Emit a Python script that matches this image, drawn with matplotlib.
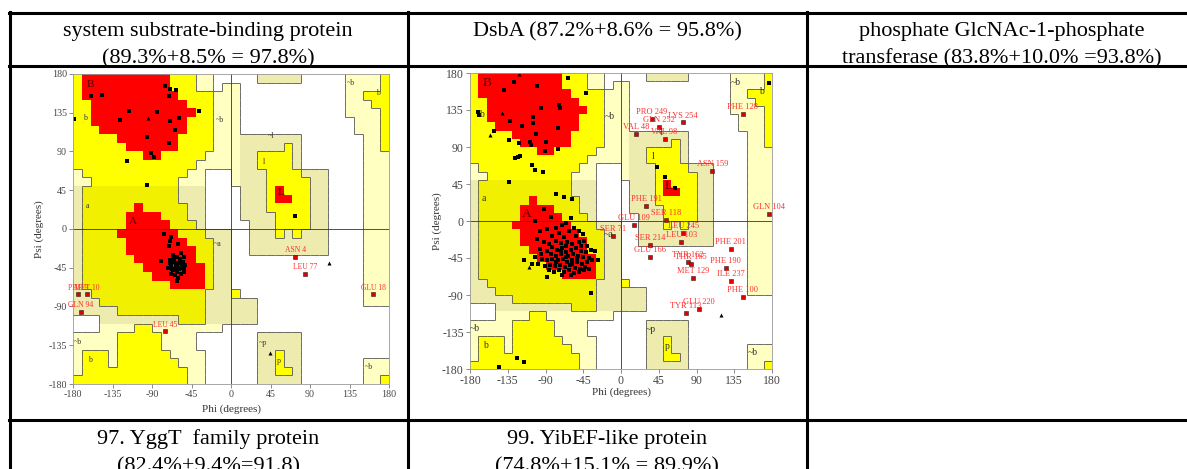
import numpy as np
import matplotlib.pyplot as plt
from matplotlib.colors import ListedColormap
from matplotlib.collections import LineCollection
from matplotlib.lines import Line2D

plt.rcParams['font.family'] = ['Liberation Serif', 'DejaVu Serif']
plt.rcParams['axes.unicode_minus'] = False

W, H = 1187, 469

# Ramachandran regions, 10 degree cells, top row = psi 170..180, first column = phi -180..-170
# R core, Y allowed, D allowed (shaded), P generous, T generous (shaded), . disallowed
region_rows = [
    "YRRRRRRRRRRYYYPP.....TTTTT.....PPPPY",
    "YRRRRRRRRRRYYYPP.PP............PPPPY",
    "YRRRRRRRRRRRYYYYPPP............PPYYY",
    "YYRRRRRRRRRRRYYYPPP............PPPYY",
    "YYRRRRRRRRRRRRYYPPP............PPPPY",
    "YYRRRRRRRRRRRYYYPPP.............PPPY",
    "YYYRRRRRRRRRRYYYPPP.............PPPY",
    "YYYYYRRRRRRRYYYYPPPTTTTTTT.......PPY",
    "YYYYYYRRRRRRYYYYPPPTTTTTYT.......PPY",
    "YYYYYYYYRRYYYYYPPPPTTYYYYT.......PPP",
    "YYYYYYYYYYYYYYPPPPPTTYYYYT.......PPP",
    "PYYYYYYYYYYYYPP...PTTTYYYYTTT....PPP",
    "PPYYYYYYYYYYPPP...PTTTYYYYYTT....PPP",
    "TDDDDDDDDDDDTTT....TTTYRYYYTT....PPP",
    "TDDDDDDDDDDDTTT....TTTYRRYYTT....PPP",
    "TDDDDDDRDDDDDTT....TTTYYYYYTT....PPP",
    "TDDDDDRRRRDDDTT....TTTTYYYYTT....PPP",
    "TDDDDDRRRRRDDDT.....TTTYYYYTT....PPP",
    "TDDDDRRRRRRRDDDTTT..TTTYTYTTT....PPP",
    "TDDDDDRRRRRRRDDDTT..TTTTTTTTT....PPP",
    "TDDDDDRRRRRRRRDDTT..TTTTTTTTT....PPP",
    "TDDDDDDRRRRRRRDDTT...............PPP",
    "TDDDDDDDRRRRRRRDTT...............PPP",
    "TDDDDDDDDRRRRRRDTT...............PPP",
    "TDDDDDDDDDDRRRRDTT...............PPP",
    "TTDDDDDDDDDDDDDTTTY..............PPP",
    "TTTDDDDDDDDDDDDTTTTTT............PPP",
    "TTTTTDDDDDDDDDDTTTTTT...............",
    "...TTTTTTTTTDDDTTTTTT...............",
    "...PPPPYYPPPPPPPP...................",
    "PPPPPYYYYYPPPP.......TTTTT..........",
    "PPPPPYYYYYPPPP.......TTTTT..........",
    "PYYYPYYYYYYPPPP......TTYTT..........",
    "PYYYPYYYYYYYPPP......TTYTT.......PPP",
    "PYYYYYYYYYYYYPP......TTYYT.......PPP",
    "YYYYYYYYYYYYYPP......TTTTT.......PPY",
]
region_codes = ".PTYDR"
region_colors = ["#FFFFFF", "#FFFFC2", "#EDEBAE", "#FFFF00", "#F0F000", "#FF0000"]
region_level = {".": 0, "P": 1, "T": 1, "Y": 2, "D": 2, "R": 3}

region_names = ["B", "A", "L", "b", "a", "l", "p", "~b", "~a", "~l", "~p", "~b", "b", "~b", "b", "~b"]
region_name_phi = [-160, -112, 57, -166, -163, 38, 55, -13, -15, 46, 36, -174, -161, 137, 168, 157]
region_name_psi = [168, 9, 42, 129, 27, 78, -153, 127, -17, 108, -132, -131, -152, 169, 158, -160]

# plot 1: system substrate-binding protein
p1_phi = [-160, -147, -75, -70, -63, -71, -116, -84, -36, -126, -70, -59, -64, -96, -71, -91, -88,
          -118, -96, -179, 73,
          -76, -68, -70, -71, -60, -57, -80, -66, -62, -58, -54, -70, -65, -60, -55, -52, -68, -63,
          -58, -54, -72, -66, -61, -57, -64, -60, -62, -68, -56, -65, -59, -63, -67, -61, -57, -53,
          -70, -62]
p1_psi = [155, 156, 166, 162, 161, 154, 137, 136, 137, 126, 125, 129, 115, 107, 100, 88, 84,
          79, 51, 128, 15,
          -6, -9, -14, -20, -18, -28, -37, -30, -33, -35, -32, -36, -38, -40, -38, -42, -42, -44,
          -45, -47, -45, -48, -50, -52, -54, -57, -60, -52, -42, -34, -47, -39, -46, -43, -40, -50,
          -40, -48]
p1_gly_phi = [-95, 112, 44]
p1_gly_psi = [129, -40, -144]
p1_out_names = ["ASN 4", "LEU 77", "GLU 18", "PHE 9", "MET 10", "GLN 94", "LEU 45"]
p1_out_phi = [73, 84, 162, -174, -164, -171, -75]
p1_out_psi = [-32, -52, -76, -76, -76, -96, -119]

# plot 2: DsbA
p2_phi = [-171, -169, -127, -100, -139, -63, -42, -132, -118, -105, -105, -95, -74, -73, -75, -101,
          -151, -133, -121, -109, -107, -89, -75, -91, -126, -123, -120, -106, -102, -93, -133,
          -77, -68, -59, 43, 53, 64, 176, -124, -116, -146,
          -103, -92, -84, -60, -65, -70, -78, -88, -96, -56, -50, -62, -74, -82, -45, -54, -68,
          -100, -92, -86, -78, -72, -64, -58, -50, -44, -40, -96, -88, -82, -76, -70, -66, -60,
          -54, -48, -42, -36, -84, -78, -72, -63, -57, -51, -45, -38,
          -102, -94, -88, -82, -75, -69, -64, -58, -52, -46, -40, -34, -99, -91, -85, -79, -73,
          -67, -61, -55, -49, -43, -86, -80, -74, -68, -62, -56, -50, -44, -38,
          -116, -106, -88, -36, -31, -28, -70, -60, -65, -71, -59, -53, -77, -66, -95, -48]
p2_psi = [132, 129, 169, 164, 159, 174, 156, 122, 115, 126, 119, 137, 141, 137, 113, 106,
          110, 99, 95, 96, 92, 96, 88, 85, 77, 78, 79, 68, 62, 60, 47,
          33, 29, 27, 66, 53, 40, 168, -167, -171, -178,
          0, 14, 5, 4, -2, -5, -8, -10, -12, -8, -12, -12, -15, -18, -16, -18, -20,
          -22, -25, -28, -24, -27, -25, -28, -26, -24, -30, -34, -36, -32, -35, -33, -38, -35,
          -33, -36, -38, -35, -40, -42, -40, -42, -40, -42, -44, -45,
          -44, -46, -48, -46, -48, -46, -50, -47, -50, -52, -50, -48, -52, -55, -53, -55, -53,
          -56, -54, -57, -58, -56, -60, -62, -60, -62, -60, -63, -62, -60, -58,
          -47, -52, -68, -88, -37, -48, -66, -66, -44, -37, -52, -45, -50, -30, -40, -30]
p2_gly_phi = [-122, -142, -156, -110, 119]
p2_gly_psi = [179, 131, 104, -56, -114]
p2_out_names = ["PRO 249", "GLN 252", "LYS 254", "VAL 48", "VAL 98", "PHE 128", "ASN 159",
                "PHE 191", "GLN 104", "SER 118", "GLU 109", "LEU 245", "SER 71", "LEU 103",
                "SER 214", "PHE 201", "GLU 166", "TYR 162", "THR 165", "PHE 190", "MET 129",
                "ILE 237", "PHE 100", "GLU 220", "TYR 113"]
p2_out_phi = [37, 45, 74, 18, 52, 145, 109, 30, 177, 54, 16, 74, -9, 72, 35, 131, 34, 80, 83,
              125, 86, 131, 145, 93, 77]
p2_out_psi = [124, 114, 120, 106, 100, 130, 61, 18, 9, 1, -5, -14, -18, -25, -29, -34, -44, -50,
              -52, -57, -69, -73, -92, -107, -112]

# table text
header_top = [["system substrate-binding protein", "(89.3%+8.5% = 97.8%)"],
              ["DsbA (87.2%+8.6% = 95.8%)"],
              ["phosphate GlcNAc-1-phosphate", "transferase (83.8%+10.0% =93.8%)"]]
header_bottom = [["97. YggT  family protein", "(82.4%+9.4%=91.8)"],
                 ["99. YibEF-like protein", "(74.8%+15.1% = 89.9%)"]]
col_centers = [208, 607, 1002]


def fx(px):
    return px / W


def fy(py):
    return 1 - py / H


def rama(rect, phi, psi, gly_phi, gly_psi, out_names, out_phi, out_psi, tick_fs, res_fs, lab_dx, lab_dy):
    ax = fig.add_axes(rect)
    grid = np.array([[region_codes.index(c) for c in row] for row in region_rows])[::-1]
    edges = np.arange(-180, 181, 10)
    ax.pcolormesh(edges, edges, grid, cmap=ListedColormap(region_colors), vmin=-0.5, vmax=5.5)

    # thin outlines where the region class changes (not round the core regions)
    segs = []
    n = len(region_rows)
    for r in range(n):
        for c in range(n):
            a = region_level[region_rows[r][c]]
            if c + 1 < n:
                b = region_level[region_rows[r][c + 1]]
                if a != b and a != 3 and b != 3:
                    x = -180 + 10 * (c + 1)
                    segs.append([(x, 180 - 10 * r), (x, 170 - 10 * r)])
            if r + 1 < n:
                b = region_level[region_rows[r + 1][c]]
                if a != b and a != 3 and b != 3:
                    y = 170 - 10 * r
                    segs.append([(-180 + 10 * c, y), (-170 + 10 * c, y)])
    ax.add_collection(LineCollection(segs, colors="#555555", linewidths=0.6))

    ax.axhline(0, color="#333333", lw=0.6)
    ax.axvline(0, color="#333333", lw=0.6)

    for name, x, y in zip(region_names, region_name_phi, region_name_psi):
        if name in ("A", "B", "L"):
            ax.text(x, y, name, color="#550000", fontsize=tick_fs + 1, ha="center", va="center")
        else:
            ax.text(x, y, name, color="#333333", fontsize=tick_fs - 1.5, ha="center", va="center")

    ax.plot(phi, psi, "s", color="black", ms=2.9, mew=0)
    ax.plot(gly_phi, gly_psi, "^", color="black", ms=2.9, mew=0)
    ax.plot(out_phi, out_psi, "s", mfc="#E00000", mec="#222222", ms=3, mew=0.4)
    for name, x, y in zip(out_names, out_phi, out_psi):
        ax.annotate(name, (x, y), xytext=(0, 2), textcoords="offset points", ha="center",
                    va="bottom", color="#FF3030", fontsize=res_fs)

    ax.set_xlim(-180, 180)
    ax.set_ylim(-180, 180)
    ticks = list(range(-180, 181, 45))
    ax.set_xticks(ticks)
    ax.set_yticks(ticks)
    ax.tick_params(length=3, width=0.6, color="#777777", labelsize=tick_fs, labelcolor="#444444", pad=1.5)
    for s in ax.spines.values():
        s.set_color("#999999")
        s.set_linewidth(0.6)
    ax.set_xlabel("Phi (degrees)", fontsize=8, color="#333333")
    ax.set_ylabel("Psi (degrees)", fontsize=8, color="#333333")
    ax.xaxis.set_label_coords(0.5, lab_dy)
    ax.yaxis.set_label_coords(lab_dx, 0.5)
    return ax


fig = plt.figure(figsize=(W / 100, H / 100), dpi=100)

rama([fx(73), fy(384), (389 - 73) / W, (384 - 74) / H], p1_phi, p1_psi, p1_gly_phi, p1_gly_psi,
     p1_out_names, p1_out_phi, p1_out_psi, 7.2, 5.5, -29 / 316, -20 / 310)
rama([fx(470), fy(369), (772 - 470) / W, (369 - 73) / H], p2_phi, p2_psi, p2_gly_phi, p2_gly_psi,
     p2_out_names, p2_out_phi, p2_out_psi, 8.5, 6, -28 / 302, -18 / 296)

# table rules
lw = 2.2
for y in (13, 66, 420):
    fig.add_artist(Line2D([fx(9), 1], [fy(y), fy(y)], color="black", lw=lw))
for x in (10, 408, 807):
    fig.add_artist(Line2D([fx(x), fx(x)], [fy(12), 0], color="black", lw=lw))

for cx, lines in zip(col_centers, header_top):
    for i, t in enumerate(lines):
        fig.text(fx(cx), fy(36 + 27 * i), t, ha="center", va="baseline", fontsize=16)
for cx, lines in zip(col_centers, header_bottom):
    for i, t in enumerate(lines):
        fig.text(fx(cx), fy(444 + 27 * i), t, ha="center", va="baseline", fontsize=16)

fig.savefig("out.png", dpi=100)
